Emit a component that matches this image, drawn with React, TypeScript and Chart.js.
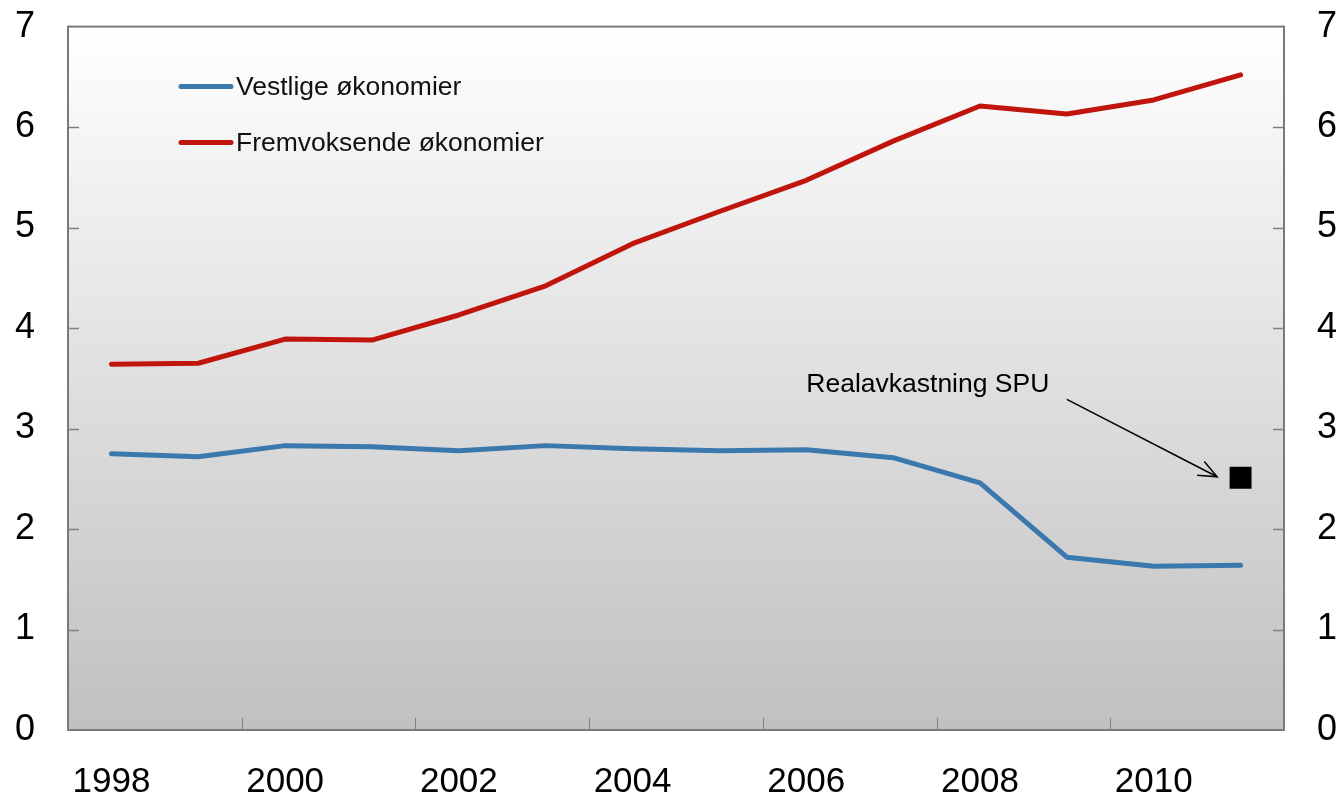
import React, { useEffect, useRef } from "react";
import { Chart, registerables } from "chart.js";

Chart.register(...registerables);

const years = ["1998", "1999", "2000", "2001", "2002", "2003", "2004", "2005", "2006", "2007", "2008", "2009", "2010", "2011"];
const vestlige = [2.75, 2.72, 2.83, 2.82, 2.78, 2.83, 2.8, 2.78, 2.79, 2.71, 2.46, 1.72, 1.63, 1.64];
const fremvoksende = [3.64, 3.65, 3.89, 3.88, 4.13, 4.42, 4.84, 5.16, 5.47, 5.86, 6.21, 6.13, 6.27, 6.52];
const spu = [null, null, null, null, null, null, null, null, null, null, null, null, null, 2.51];
const seriesLabels = ["Vestlige økonomier", "Fremvoksende økonomier", "Realavkastning SPU"];
const yTicks = [0, 1, 2, 3, 4, 5, 6, 7];

const BLUE = "#3a78ae";
const RED = "#c0150c";
const FONT = "'Liberation Sans', Arial, sans-serif";

const bgPlugin = {
  id: "bgPlugin",
  beforeDraw(chart: any) {
    const { ctx, chartArea: a } = chart;
    const g = ctx.createLinearGradient(0, a.top, 0, a.bottom);
    g.addColorStop(0, "#ffffff");
    g.addColorStop(1, "#c0c0c0");
    ctx.save();
    ctx.fillStyle = g;
    ctx.fillRect(a.left, a.top, a.right - a.left, a.bottom - a.top);
    ctx.restore();
  },
  afterDatasetsDraw(chart: any) {
    const { ctx, chartArea: a, scales } = chart;
    const xs = scales.x;
    const ys = scales.y;
    ctx.save();
    // ticks
    ctx.strokeStyle = "#808080";
    ctx.lineWidth = 1.5;
    yTicks.forEach((v) => {
      if (v === 0 || v === 7) return;
      const y = Math.round(ys.getPixelForValue(v)) + 0.5;
      ctx.beginPath();
      ctx.moveTo(a.left, y);
      ctx.lineTo(a.left + 11, y);
      ctx.moveTo(a.right, y);
      ctx.lineTo(a.right - 11, y);
      ctx.stroke();
    });
    ctx.lineWidth = 1;
    for (let i = 2; i < years.length; i += 2) {
      const x = Math.round((xs.getPixelForValue(i - 1) + xs.getPixelForValue(i)) / 2) + 0.5;
      ctx.beginPath();
      ctx.moveTo(x, a.bottom);
      ctx.lineTo(x, a.bottom - 12);
      ctx.stroke();
    }
    // border
    ctx.strokeStyle = "#7a7a7a";
    ctx.lineWidth = 2;
    ctx.strokeRect(a.left, a.top, a.right - a.left, a.bottom - a.top);

    // legend
    const items = [
      { label: seriesLabels[0], color: BLUE, y: a.top + 60 },
      { label: seriesLabels[1], color: RED, y: a.top + 116 },
    ];
    ctx.font = `26.5px ${FONT}`;
    ctx.textBaseline = "middle";
    ctx.textAlign = "left";
    items.forEach((it) => {
      ctx.strokeStyle = it.color;
      ctx.lineWidth = 5;
      ctx.lineCap = "round";
      ctx.beginPath();
      ctx.moveTo(a.left + 113, it.y);
      ctx.lineTo(a.left + 163, it.y);
      ctx.stroke();
      ctx.fillStyle = "#111";
      ctx.fillText(it.label, a.left + 168, it.y + 1);
    });

    // annotation
    ctx.fillStyle = "#000";
    ctx.font = `26.5px ${FONT}`;
    ctx.fillText(seriesLabels[2], xs.getPixelForValue(8), ys.getPixelForValue(3.44));
    const x1 = xs.getPixelForValue(11);
    const y1 = ys.getPixelForValue(3.29);
    const x2 = xs.getPixelForValue(12.73);
    const y2 = ys.getPixelForValue(2.52);
    ctx.strokeStyle = "#000";
    ctx.lineWidth = 1.5;
    ctx.lineCap = "butt";
    ctx.beginPath();
    ctx.moveTo(x1, y1);
    ctx.lineTo(x2, y2);
    ctx.stroke();
    const ang = Math.atan2(y2 - y1, x2 - x1);
    const L = 20;
    ctx.beginPath();
    ctx.moveTo(x2 - L * Math.cos(ang - 0.4), y2 - L * Math.sin(ang - 0.4));
    ctx.lineTo(x2, y2);
    ctx.lineTo(x2 - L * Math.cos(ang + 0.4), y2 - L * Math.sin(ang + 0.4));
    ctx.stroke();
    ctx.restore();
  },
};

export default function App() {
  const ref = useRef<HTMLCanvasElement | null>(null);
  useEffect(() => {
    if (!ref.current) return;
    const chart = new Chart(ref.current, {
      type: "line",
      data: {
        labels: years,
        datasets: [
          {
            label: seriesLabels[0],
            data: vestlige,
            borderColor: BLUE,
            backgroundColor: BLUE,
            borderWidth: 5,
            pointRadius: 0,
            tension: 0,
            borderCapStyle: "round",
            borderJoinStyle: "round",
          },
          {
            label: seriesLabels[1],
            data: fremvoksende,
            borderColor: RED,
            backgroundColor: RED,
            borderWidth: 5,
            pointRadius: 0,
            tension: 0,
            borderCapStyle: "round",
            borderJoinStyle: "round",
          },
          {
            label: seriesLabels[2],
            data: spu,
            showLine: false,
            pointStyle: "rect",
            pointRadius: 15.5,
            pointBackgroundColor: "#000",
            pointBorderColor: "#000",
            borderWidth: 0,
          },
        ],
      },
      options: {
        animation: false,
        responsive: true,
        maintainAspectRatio: false,
        layout: { padding: { top: 0, left: 0, right: 0, bottom: 0 } },
        plugins: { legend: { display: false }, tooltip: { enabled: false } },
        scales: {
          x: {
            type: "category",
            offset: true,
            grid: { display: false },
            border: { display: false },
            ticks: {
              autoSkip: false,
              maxRotation: 0,
              padding: 23,
              color: "#000",
              font: { family: FONT, size: 35 },
              callback: (_v: any, i: number) => (i % 2 === 0 ? years[i] : ""),
            },
            afterFit: (s: any) => {
              s.height = 66;
            },
          },
          y: {
            position: "left",
            min: 0,
            max: 7,
            grid: { display: false },
            border: { display: false },
            afterBuildTicks: (s: any) => {
              s.ticks = yTicks.map((v) => ({ value: v }));
            },
            ticks: { padding: 25, color: "#000", font: { family: FONT, size: 36 } },
            afterFit: (s: any) => {
              s.width = 68;
            },
          },
          y2: {
            position: "right",
            min: 0,
            max: 7,
            grid: { display: false },
            border: { display: false },
            afterBuildTicks: (s: any) => {
              s.ticks = yTicks.map((v) => ({ value: v }));
            },
            ticks: { padding: 25, color: "#000", font: { family: FONT, size: 36 } },
            afterFit: (s: any) => {
              s.width = 57;
            },
          },
        },
      },
      plugins: [bgPlugin],
    } as any);
    return () => chart.destroy();
  }, []);
  return (
    <div style={{ position: "fixed", left: 0, top: -20, width: 1341, height: 816 }}>
      <canvas ref={ref} />
    </div>
  );
}
